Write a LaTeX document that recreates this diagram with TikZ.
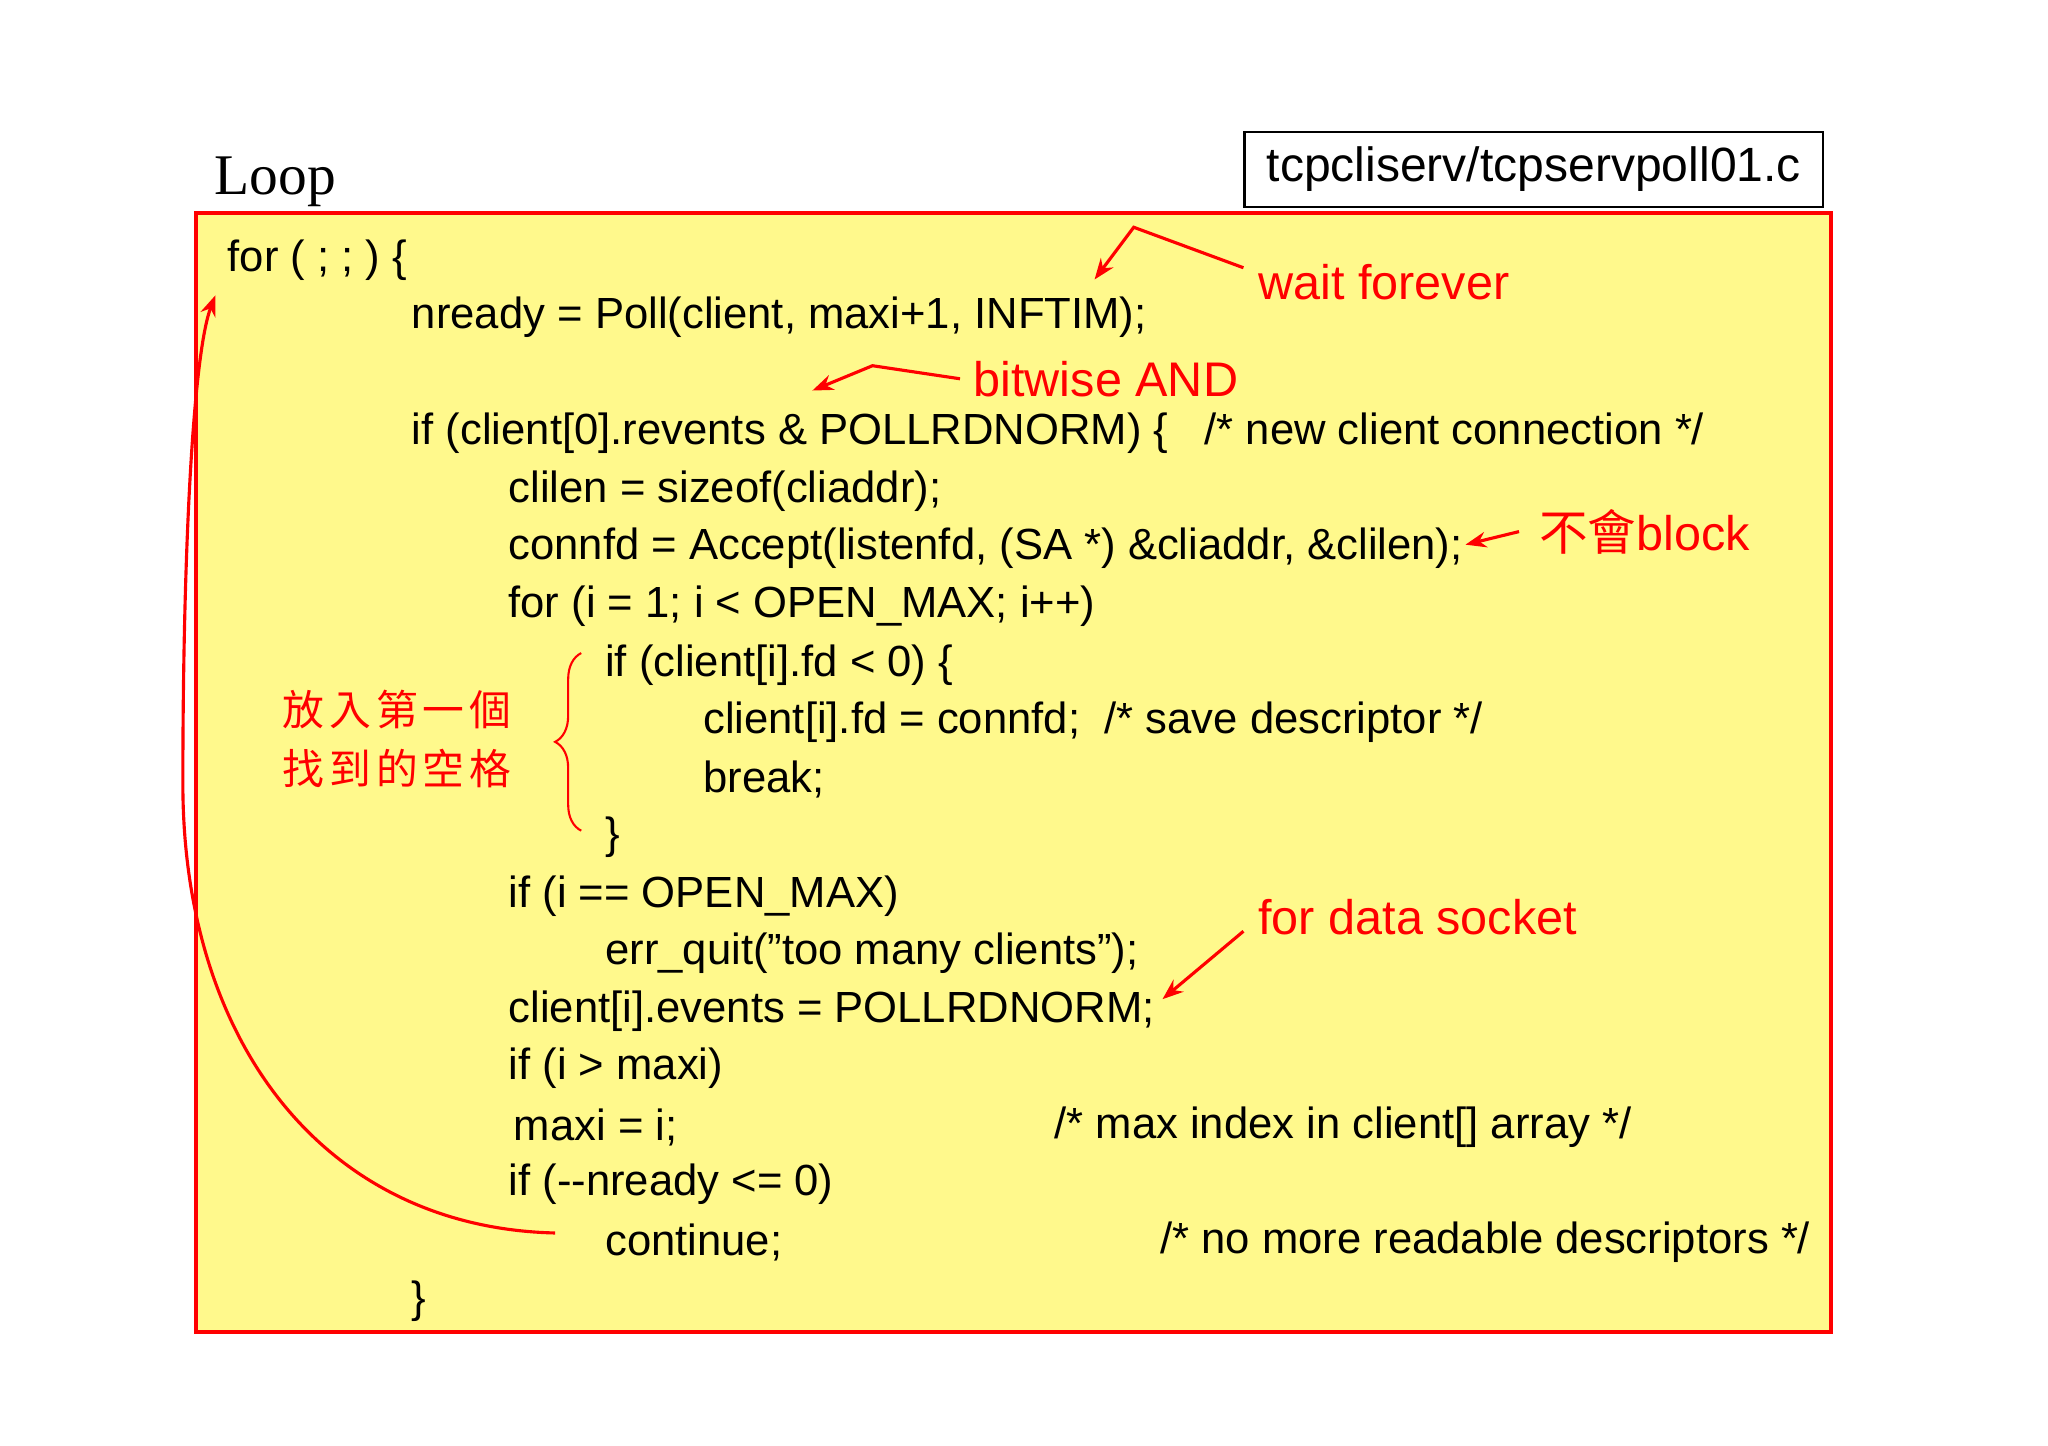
\documentclass[tikz,border=0pt]{standalone}
\usepackage{fontspec}
\setmainfont{Liberation Sans}
\newfontfamily\serifr{Liberation Serif}
\newfontfamily\cjk{Noto Sans CJK TC}
\newfontfamily\cjkw[LetterSpace=12]{Noto Sans CJK TC}
\usetikzlibrary{arrows.meta,decorations.pathreplacing}
\begin{document}
\begin{tikzpicture}[x=0.5pt,y=-0.5pt,
  code/.style={anchor=west,inner sep=0pt,font=\fontsize{16.7}{19}\selectfont},
  note/.style={anchor=west,inner sep=0pt,text=red,font=\fontsize{18.6}{22}\selectfont},
  arr/.style={red,line width=1.2pt,-{Stealth[length=8pt,width=6pt]}}]
\useasboundingbox (0,0) rectangle (1568,1107);
\draw[red,line width=1.5pt,fill=yellow!45] (150,163) rectangle (1402,1020);
\node[draw,line width=0.8pt,minimum width=221.5pt,minimum height=29pt,anchor=north west,font=\fontsize{18.4}{21}\selectfont] (file) at (952,100) {tcpcliserv/tcpservpoll01.c};
\node[anchor=west,inner sep=0pt,font=\serifr\fontsize{22}{26}\selectfont] (loop) at (164,139) {Loop};
\node[code] (l1) at (174,199) {for ( ; ; ) \{};
\node[code] (l2) at (315,243) {nready = Poll(client, maxi+1, INFTIM);};
\node[code] (l3) at (315,332) {if (client[0].revents \& POLLRDNORM) \{\ \ \ /* new client connection */};
\node[code] (l4) at (389,376) {clilen = sizeof(cliaddr);};
\node[code] (l5) at (389,420) {connfd = Accept(listenfd, (SA *) \&cliaddr, \&clilen);};
\node[code] (l6) at (389,464) {for (i = 1; i < OPEN\_MAX; i++)};
\node[code] (l7) at (463,509) {if (client[i].fd < 0) \{};
\node[code] (l8) at (538,553) {client[i].fd = connfd;\ \ /* save descriptor */};
\node[code] (l9) at (538,597) {break;};
\node[code] (l10) at (463,641) {\}};
\node[code] (l11) at (389,686) {if (i == OPEN\_MAX)};
\node[code] (l12) at (463,730) {err\_quit(\symbol{34}too many clients\symbol{34});};
\node[code] (l13) at (389,774) {client[i].events = POLLRDNORM;};
\node[code] (l14) at (389,818) {if (i > maxi)};
\node[code] (l15) at (393,863) {maxi = i;};
\node[code] (l15c) at (807,863) {/* max index in client[] array */};
\node[code] (l16) at (389,907) {if ({-}{-}nready <= 0)};
\node[code] (l17) at (463,951) {continue;};
\node[code] (l17c) at (888,951) {/* no more readable descriptors */};
\node[code] (l18) at (315,996) {\}};
% notes
\node[note] (n1) at (963,216) {wait forever};
\node[note] (n2) at (745,290) {bitwise AND};
\node[note] (n3) at (1178,407) {{\cjk 不會}block};
\node[note] (n4) at (963,702) {for data socket};
\node[anchor=east,inner sep=0pt,text=red,align=left,font=\cjkw\fontsize{16}{22.5}\selectfont] (n5) at (392,566) {放入第一個\\找到的空格};
\coordinate (a1) at (838,214); \coordinate (a1s) at (952,205);
\draw[arr] (a1s) -- (868,174) -- (a1);
\coordinate (a2) at (622,299); \coordinate (a2s) at (735,290);
\draw[arr] (a2s) -- (668,280) -- (a2);
\coordinate (a3) at (1122,417); \coordinate (a3s) at (1163,407);
\draw[arr] (a3s) -- (a3);
\coordinate (a4) at (890,765); \coordinate (a4s) at (952,713);
\draw[arr] (a4s) -- (a4);
\coordinate (b1) at (445,636); \coordinate (b2) at (445,500);
\draw[red,line width=0.8pt,decorate,decoration={brace,amplitude=10pt}] (b1) -- (b2);
\coordinate (c1) at (425,944); \coordinate (c2) at (165,226);
\draw[arr] (c1) .. controls (250,940) and (140,800) .. (140,600) .. controls (140,420) and (148,270) .. (c2);
\end{tikzpicture}
\end{document}
